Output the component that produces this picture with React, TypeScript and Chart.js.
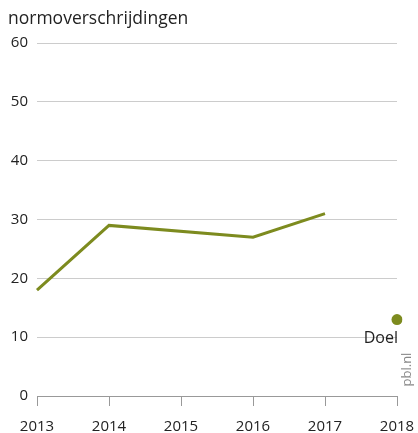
import React, { useEffect, useRef } from "react";
import { Chart, registerables } from "chart.js";

Chart.register(...registerables);

const years = ["2013", "2014", "2015", "2016", "2017", "2018"];
const normoverschrijdingen = [18, 29, null, 27, 31, null];
const doel = [null, null, null, null, null, 13];
const yTicks = [0, 10, 20, 30, 40, 50, 60];
const titleText = "normoverschrijdingen";
const doelLabel = "Doel";
const sourceText = "pbl.nl";

const FONT = "'Open Sans', 'Noto Sans', sans-serif";
const OLIVE = "#7d8b1f";

const textPlugin = {
  id: "textPlugin",
  afterDraw(chart: any) {
    const ctx = chart.ctx;
    const x = chart.scales.x;
    const y = chart.scales.y;
    ctx.save();
    ctx.fillStyle = "#222";
    ctx.font = `17.5px ${FONT}`;
    ctx.textBaseline = "middle";
    ctx.textAlign = "left";
    ctx.fillText(titleText, 8, 19);
    ctx.font = `16px ${FONT}`;
    ctx.textAlign = "right";
    ctx.fillText(doelLabel, x.getPixelForValue(5) + 1, y.getPixelForValue(13) + 19);
    ctx.fillStyle = "#888";
    ctx.font = `13px ${FONT}`;
    ctx.translate(x.getPixelForValue(5) + 10, y.getPixelForValue(4.5));
    ctx.rotate(-Math.PI / 2);
    ctx.textAlign = "center";
    ctx.fillText(sourceText, 0, 0);
    ctx.restore();
  },
};

export default function App() {
  const ref = useRef<HTMLCanvasElement | null>(null);
  useEffect(() => {
    if (!ref.current) return;
    const chart = new Chart(ref.current, {
      type: "line",
      data: {
        labels: years,
        datasets: [
          {
            data: normoverschrijdingen as any,
            borderColor: OLIVE,
            borderWidth: 3,
            pointRadius: 0,
            spanGaps: true,
            tension: 0,
          },
          {
            data: doel as any,
            borderColor: OLIVE,
            backgroundColor: OLIVE,
            pointRadius: 5.5,
            pointBorderWidth: 0,
            showLine: false,
          },
        ],
      },
      options: {
        animation: false,
        responsive: false,
        devicePixelRatio: 1,
        layout: { padding: { left: 0, right: 21, top: 43, bottom: 0 } },
        plugins: { legend: { display: false }, tooltip: { enabled: false } },
        scales: {
          x: {
            type: "category",
            offset: false,
            afterFit: (s: any) => {
              s.height = 37;
              s.paddingLeft = 0;
              s.paddingRight = 0;
            },
            border: { display: true, color: "#999", width: 1 },
            grid: {
              display: true,
              drawOnChartArea: false,
              drawTicks: true,
              tickLength: 10,
              color: "#999",
            },
            ticks: {
              color: "#222",
              font: { family: FONT, size: 15 },
              padding: 12,
              maxRotation: 0,
              autoSkip: false,
            },
          },
          y: {
            min: 0,
            max: 60,
            afterFit: (s: any) => {
              s.width = 37;
            },
            afterBuildTicks: (s: any) => {
              s.ticks = yTicks.map((v) => ({ value: v }));
            },
            border: { display: false },
            grid: {
              color: (c: any) => (c.tick && c.tick.value === 0 ? "rgba(0,0,0,0)" : "#cccccc"),
              drawTicks: false,
              lineWidth: 1,
            },
            ticks: {
              color: "#222",
              font: { family: FONT, size: 15 },
              padding: 9,
            },
          },
        },
      },
      plugins: [textPlugin],
    });
    return () => chart.destroy();
  }, []);
  return (
    <div style={{ position: "fixed", left: 0, top: 0, width: 418, height: 433, background: "#fff" }}>
      <canvas ref={ref} width={418} height={433} style={{ width: 418, height: 433 }} />
    </div>
  );
}
